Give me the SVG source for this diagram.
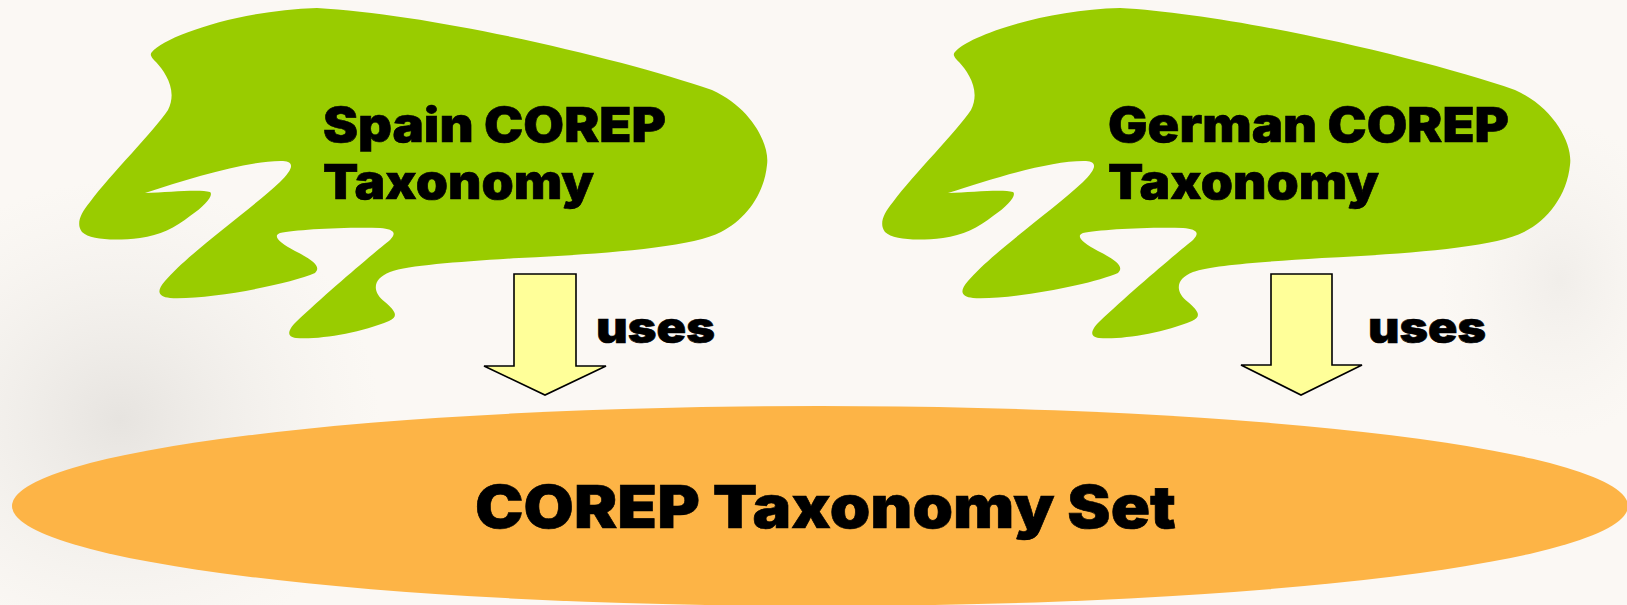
<svg xmlns="http://www.w3.org/2000/svg" width="1627" height="605" viewBox="0 0 1627 605">
<style>
.cloud{fill:#99CC00;}
.lbl{font-family:"Inter","Liberation Sans",Arial,sans-serif;font-weight:900;fill:#000;stroke:#000;stroke-width:0.6;}
.arrow{fill:#FFFF99;stroke:#000;stroke-width:1.6;stroke-linejoin:miter;}
</style>
<defs>
<radialGradient id="bgblob" cx="0.5" cy="0.5" r="0.5">
<stop offset="0" stop-color="#d9d6d2" stop-opacity="0.6"/>
<stop offset="1" stop-color="#e8e6e2" stop-opacity="0"/>
</radialGradient>
<path id="cloudShape" d="M 152 52 C 165 36 240 10 317 8 C 430 14 620 58 712 90 C 752 108 770 145 767 165 C 764 195 745 220 721 232 C 690 248 600 254 519 258 C 460 262 410 265 390 272 C 372 279 372 292 385 302 C 394 310 400 316 389 321 C 360 333 318 340 296 338 C 286 337 288 330 296 322 C 330 290 375 252 390 240 C 398 232 392 229 380 228 C 340 227 295 230 280 233 C 272 236 280 243 295 251 C 315 261 321 267 315 273 C 290 284 210 300 170 298 C 158 297 156 291 165 281 C 190 252 250 210 280 182 C 292 170 296 162 283 161 C 250 160 190 178 145 193 C 170 192 200 189 210 192 C 214 195 205 206 190 216 C 175 228 160 235 140 238 C 115 241 90 240 82 232 C 76 224 80 214 90 202 C 110 175 155 130 168 110 C 178 90 165 72 156 62 C 150 56 150 54 152 52 Z"/>
</defs>
<rect x="0" y="0" width="1627" height="605" fill="#FBF8F4"/>
<ellipse cx="120" cy="420" rx="260" ry="240" fill="url(#bgblob)"/>
<ellipse cx="1560" cy="280" rx="120" ry="160" fill="url(#bgblob)" opacity="0.5"/>

<g id="spain-corep">
<use href="#cloudShape" class="cloud"/>
<text class="lbl" x="323" y="142" font-size="48" textLength="343" lengthAdjust="spacingAndGlyphs">Spain COREP</text>
<text class="lbl" x="323" y="199" font-size="48" textLength="271" lengthAdjust="spacingAndGlyphs">Taxonomy</text>
</g>

<g id="german-corep">
<use href="#cloudShape" class="cloud" transform="translate(803,0)"/>
<text class="lbl" x="1108" y="142" font-size="48" textLength="401" lengthAdjust="spacingAndGlyphs">German COREP</text>
<text class="lbl" x="1108" y="199" font-size="48" textLength="271" lengthAdjust="spacingAndGlyphs">Taxonomy</text>
</g>

<g id="corep-taxonomy-set">
<ellipse cx="820" cy="506" rx="808" ry="100" fill="#FDB446"/>
<text class="lbl" x="475" y="528" font-size="59" textLength="701" lengthAdjust="spacingAndGlyphs">COREP Taxonomy Set</text>
</g>

<g id="connectors">
<polygon class="arrow" points="514,274 576,274 576,366 606,366 545,395 484,366 514,366"/>
<text class="lbl" x="596" y="343" font-size="43" textLength="119" lengthAdjust="spacingAndGlyphs">uses</text>
<polygon class="arrow" points="1271,274 1332,274 1332,365 1362,365 1301,395 1241,365 1271,365"/>
<text class="lbl" x="1368" y="343" font-size="43" textLength="118" lengthAdjust="spacingAndGlyphs">uses</text>
</g>
</svg>
